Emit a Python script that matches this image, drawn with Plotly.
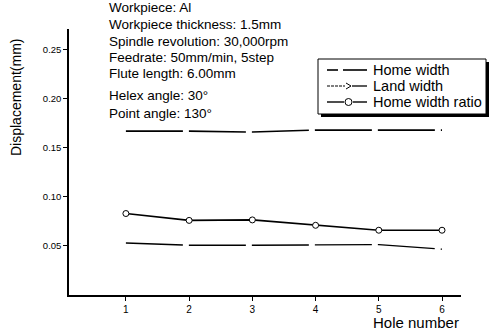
import plotly.graph_objects as go

holes = [1, 2, 3, 4, 5, 6]
home_width = [0.167, 0.167, 0.166, 0.168, 0.168, 0.168]
home_width_ratio = [0.083, 0.076, 0.0765, 0.071, 0.066, 0.066]
land_width = [0.053, 0.0507, 0.0507, 0.0507, 0.0513, 0.0467]
y_ticks = [0.05, 0.10, 0.15, 0.20, 0.25]
y_tick_labels = ["0.05", "0.10", "0.15", "0.20", "0.25"]
legend_names = ["Home width", "Land width", "Home width ratio"]
info_lines = [
    "Workpiece: Al",
    "Workpiece thickness: 1.5mm",
    "Spindle revolution: 30,000rpm",
    "Feedrate: 50mm/min, 5step",
    "Flute length: 6.00mm",
    "Helex angle: 30\u00b0",
    "Point angle: 130\u00b0",
]
info_y = [8, 25, 41, 57, 73, 95, 113]

FONT = "Liberation Sans, Arial, sans-serif"
W, H = 491, 335
L, R, T, B = 69, 30, 29, 40
pw, ph = W - L - R, H - T - B


def px(xp):
    return (xp - L) / pw


def py(yp):
    return 1 - (yp - T) / ph


fig = go.Figure()
fig.add_trace(go.Scatter(x=holes, y=home_width, mode="lines", name=legend_names[0],
                         line=dict(color="black", width=1.6, dash="57px,6px")))
fig.add_trace(go.Scatter(x=holes, y=land_width, mode="lines", name=legend_names[1],
                         line=dict(color="black", width=1.3, dash="57px,6px")))
fig.add_trace(go.Scatter(x=holes, y=home_width_ratio, mode="lines+markers", name=legend_names[2],
                         line=dict(color="black", width=1.6),
                         marker=dict(symbol="circle", size=6, color="white",
                                     line=dict(color="black", width=1))))

annotations = []
for txt, yy in zip(info_lines, info_y):
    annotations.append(dict(text=txt, xref="paper", yref="paper",
                            x=px(107), y=py(yy), xanchor="left", yanchor="middle",
                            showarrow=False,
                            font=dict(family=FONT, size=13.5, color="black")))
annotations.append(dict(text="Displacement(mm)", xref="paper", yref="paper",
                        x=px(16), y=py(97), textangle=-90,
                        xanchor="center", yanchor="middle", showarrow=False,
                        font=dict(family=FONT, size=14, color="black")))
annotations.append(dict(text="Hole number", xref="paper", yref="paper",
                        x=px(461), y=py(322), xanchor="right", yanchor="middle",
                        showarrow=False,
                        font=dict(family=FONT, size=15, color="black")))

# manual legend
leg_rows = [70, 86, 102]
for name, yy in zip(legend_names, leg_rows):
    annotations.append(dict(text=name, xref="paper", yref="paper",
                            x=px(371), y=py(yy), xanchor="left", yanchor="middle",
                            showarrow=False,
                            font=dict(family=FONT, size=14.5, color="black")))

shapes = [
    dict(type="rect", xref="paper", yref="paper", x0=px(321), x1=px(489), y0=py(62), y1=py(117),
         fillcolor="black", line=dict(width=0), layer="above"),
    dict(type="rect", xref="paper", yref="paper", x0=px(318), x1=px(486), y0=py(59), y1=py(114),
         fillcolor="white", line=dict(color="black", width=1), layer="above"),
    dict(type="line", xref="paper", yref="paper", x0=px(327), x1=px(338), y0=py(70), y1=py(70),
         line=dict(color="black", width=1.6), layer="above"),
    dict(type="line", xref="paper", yref="paper", x0=px(343), x1=px(367), y0=py(70), y1=py(70),
         line=dict(color="black", width=1.6), layer="above"),
    dict(type="line", xref="paper", yref="paper", x0=px(327), x1=px(345), y0=py(86), y1=py(86),
         line=dict(color="black", width=1.1, dash="3px,1px"), layer="above"),
    dict(type="path", xref="paper", yref="paper",
         path=f"M {px(346)},{py(83)} L {px(351)},{py(86)} L {px(346)},{py(89)}",
         line=dict(color="black", width=1), layer="above"),
    dict(type="line", xref="paper", yref="paper", x0=px(352), x1=px(367), y0=py(86), y1=py(86),
         line=dict(color="black", width=1.3), layer="above"),
    dict(type="line", xref="paper", yref="paper", x0=px(327), x1=px(344), y0=py(102), y1=py(102),
         line=dict(color="black", width=1.4), layer="above"),
    dict(type="circle", xref="paper", yref="paper", x0=px(345), x1=px(352), y0=py(98.5), y1=py(105.5),
         fillcolor="white", line=dict(color="black", width=1), layer="above"),
    dict(type="line", xref="paper", yref="paper", x0=px(353), x1=px(367), y0=py(102), y1=py(102),
         line=dict(color="black", width=1.4), layer="above"),
]

fig.update_layout(
    width=W, height=H,
    margin=dict(l=L, r=R, t=T, b=B),
    paper_bgcolor="white", plot_bgcolor="white",
    font=dict(family=FONT, color="black"),
    showlegend=False,
    annotations=annotations,
    shapes=shapes,
    xaxis=dict(range=[0.1, 6.3], tickvals=holes, ticktext=[str(h) for h in holes],
               showgrid=False, zeroline=False, showline=True, linecolor="black", linewidth=1.5,
               ticks="outside", ticklen=4, tickcolor="black",
               tickfont=dict(family=FONT, size=10, color="black")),
    yaxis=dict(range=[0, 0.271], tickvals=y_ticks, ticktext=y_tick_labels,
               showgrid=False, zeroline=False, showline=True, linecolor="black", linewidth=1.5,
               ticks="outside", ticklen=4, tickcolor="black",
               tickfont=dict(family=FONT, size=9.5, color="black")),
)

fig.write_html("out.html", config={"displayModeBar": False},
               post_script="document.body.style.margin='0px';")
